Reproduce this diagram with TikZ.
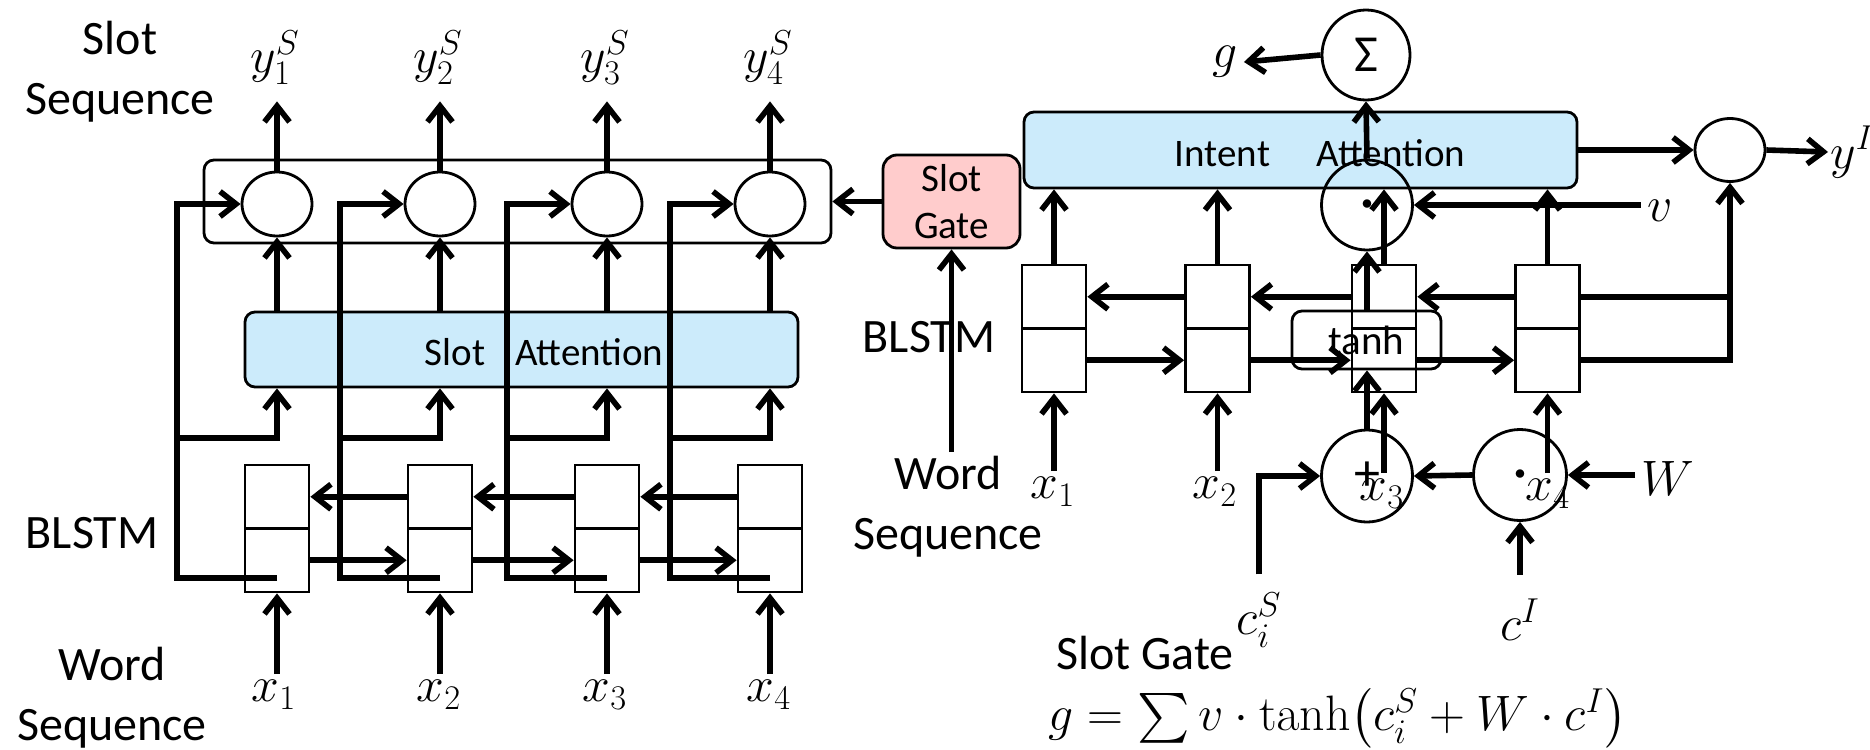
\documentclass[tikz,border=0pt]{standalone}
\usepackage{exscale}
\usepackage[no-math]{fontspec}
\newfontfamily\calib{Carlito}
\usetikzlibrary{arrows.meta,shapes.geometric,calc}
\definecolor{attblue}{HTML}{CCEBFB}
\definecolor{gatepink}{HTML}{FFCCCC}
\begin{document}
\begin{tikzpicture}[x=0.5pt,y=-0.5pt,
  arr/.style={line width=2.8pt,-{Straight Barb[length=8pt,width=12.5pt]}},
  ln/.style={line width=2.8pt},
  shp/.style={draw,line width=1.4pt,inner sep=0pt},
  circ/.style={shp,ellipse},
  cell/.style={shp,minimum width=32pt,minimum height=31.75pt},
  big/.style={font=\calib\fontsize{24}{30}\selectfont,align=center,inner sep=2pt},
  boxt/.style={font=\calib\fontsize{19.5}{23.5}\selectfont,align=center},
  ml/.style={font=\fontsize{24}{28}\selectfont,inner sep=3pt},
  dotc/.style={font=\fontsize{11}{11}\selectfont}]
\useasboundingbox (0,0) rectangle (1870,750);
\fill[white] (0,0) rectangle (1870,750);

% ---------- left part ----------
\node[big] (lss) at (120,72) {Slot\\Sequence};
\node[big] (lbl) at (92,533) {BLSTM};
\node[big] (lws) at (112,698) {Word\\Sequence};

\node[shp,rounded corners=5pt,minimum width=313.5pt,minimum height=41.5pt] (outer) at (517.5,201.5) {};
\node[shp,fill=attblue,rounded corners=5pt,minimum width=276.5pt,minimum height=37.5pt] (att) at (521.5,349.5) {};
\node[boxt] (atttxt) at (544,352) {Slot\hspace{0.77em}Attention};

\foreach \k/\x in {1/277,2/440,3/607,4/770}{
  \node[circ,minimum width=35pt,minimum height=32pt] (c\k) at (\x,204) {};
  \node[cell] (bt\k) at (\x,496.75) {};
  \node[cell] (bb\k) at (\x,560.25) {};
}
\node[ml] (y1) at (275,58) {$y_1^S$};
\node[ml] (y2) at (438,58) {$y_2^S$};
\node[ml] (y3) at (605,58) {$y_3^S$};
\node[ml] (y4) at (768,58) {$y_4^S$};
\node[ml] (x1) at (274,695) {$x_1$};
\node[ml] (x2) at (439,695) {$x_2$};
\node[ml] (x3) at (605,695) {$x_3$};
\node[ml] (x4) at (769,695) {$x_4$};

\foreach \k in {1,...,4}{
  \draw[arr,shorten >=5pt] (c\k.north) -- (c\k.north |- y\k.south);
  \draw[arr] (att.north -| c\k) -- (c\k.south);
  \draw[arr] (x\k.north -| bb\k) -- (bb\k.south);
  \coordinate (v\k) at ($(bb\k.center)+(-100,18)$);
  \draw[arr] ($(bb\k.center)+(0,18)$) -- (v\k) |- (c\k.west);
  \coordinate (j\k) at ($(v\k)+(0,-140)$);
  \draw[arr] (j\k) -| (att.south -| bb\k);
}
\foreach \a/\b in {1/2,2/3,3/4}{
  \draw[arr] (bt\b.west) -- (bt\a.east);
  \draw[arr] (bb\a.east) -- (bb\b.west);
}

% ---------- middle ----------
\node[shp,fill=gatepink,rounded corners=7pt,minimum width=68.5pt,minimum height=46.5pt,boxt] (sg) at (951.5,201.5) {Slot\\Gate};
\draw[arr] (sg.west) -- (sg.west -| outer.east);
\node[big] (mbl) at (929,337) {BLSTM};
\node[big] (mws) at (948,507) {Word\\Sequence};
\draw[arr] (mws.north -| sg.south) -- (sg.south);

% ---------- right part ----------
\node[shp,fill=attblue,rounded corners=5pt,minimum width=276.5pt,minimum height=38pt] (ia) at (1300.5,150) {};
\node[boxt] (iatxt) at (1320,153) {Intent\hspace{1.2em}Attention};

\foreach \k/\x in {1/1054,2/1217.5,3/1384,4/1547.5}{
  \node[cell] (it\k) at (\x,296.75) {};
  \node[cell] (ib\k) at (\x,360.25) {};
}
\node[ml] (rx1) at (1053,492) {$x_1$};
\node[ml] (rx2) at (1215,492) {$x_2$};
\node[ml] (rx3) at (1382,494) {$x_3$};
\node[ml] (rx4) at (1548,494) {$x_4$};
\foreach \k in {1,...,4}{
  \draw[arr] (rx\k.north -| ib\k) -- (ib\k.south);
  \draw[arr] (it\k.north) -- (it\k.north |- ia.south);
}
\foreach \a/\b in {1/2,2/3,3/4}{
  \draw[arr] (it\b.west) -- (it\a.east);
  \draw[arr] (ib\a.east) -- (ib\b.west);
}

\node[shp,rounded corners=5pt,minimum width=74.5pt,minimum height=29pt,font=\calib\fontsize{20.5}{24}\selectfont] (th) at (1366.5,340) {tanh};

\node[circ,minimum width=44pt,minimum height=45pt,font=\calib\fontsize{26}{26}\selectfont] (sm) at (1366,55) {Σ};
\node[circ,minimum width=45.5pt,minimum height=45pt,dotc] (dt) at (1367,205) {$\bullet$};
\node[circ,minimum width=45.5pt,minimum height=46pt,font=\calib\fontsize{26}{26}\selectfont] (pl) at (1367,476) {+};
\node[circ,minimum width=46.5pt,minimum height=45.5pt,dotc] (dm) at (1520,475) {$\bullet$};
\node[circ,minimum width=35pt,minimum height=31.5pt] (oc) at (1730,150) {};

\node[ml] (g) at (1225,62) {$g$};
\node[ml] (v) at (1660,211) {$v$};
\node[ml] (W) at (1668,478) {$W$};
\node[ml] (cI) at (1520,620) {$c^I$};
\node[ml] (cS) at (1259,620) {$c_i^S$};
\node[ml,anchor=west,inner sep=1pt] (yI) at (1828,152) {$y^I$};

\draw[arr] (dt.north) -- (sm.south);
\draw[arr] (sm.west) -- (g.east);
\draw[arr] (dt.south |- th.north) -- (dt.south);
\draw[arr] (pl.north) -- (pl.north |- th.south);
\draw[arr] (v.west |- dt.east) -- (dt.east);
\draw[arr] (W.west |- dm.east) -- (dm.east);
\draw[arr] (dm.west) -- (pl.east);
\draw[arr] ($(cI.north)+(0,-18)$) -- (dm.south);
\draw[arr] ($(cS.north)+(0,-12)$) |- (pl.west);
\draw[ln] (it4.east) -- (it4.east -| oc.south);
\draw[arr] (ib4.east) -| (oc.south);
\draw[arr] (ia.east) -- (ia.east -| oc.west);
\draw[arr] (oc.east) -- (yI.west);

\node[big] (sgl) at (1145,653) {Slot Gate};
\node[font=\fontsize{25}{30}\selectfont] (form) at (1338,718) {$g=\sum v\cdot\tanh\bigl(c_i^S+W\cdot c^I\bigr)$};
\end{tikzpicture}
\end{document}
